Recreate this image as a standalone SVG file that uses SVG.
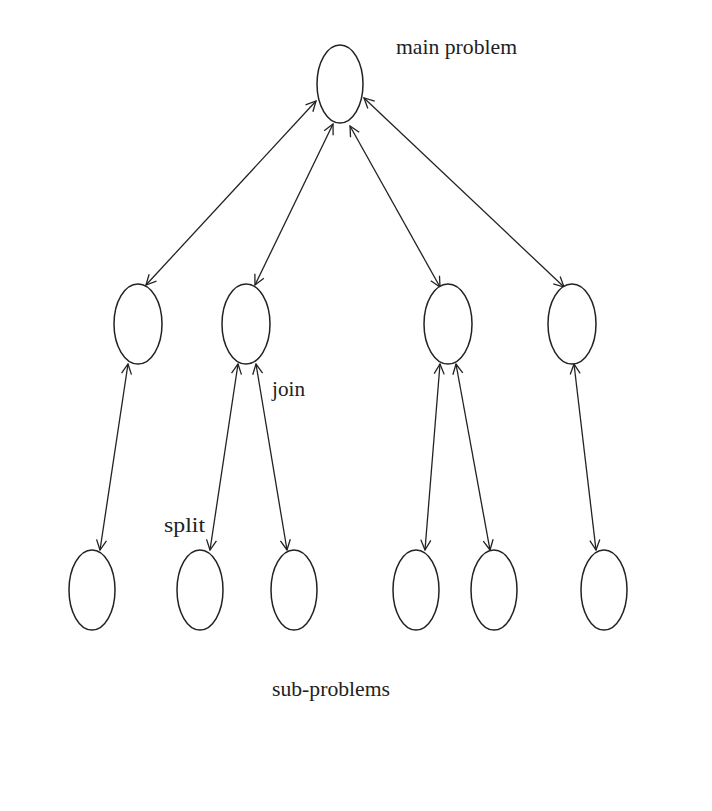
<svg xmlns="http://www.w3.org/2000/svg" width="712" height="811" viewBox="0 0 712 811">
<style>
.n{fill:#fff;stroke:#222;stroke-width:1.5}
.e{stroke:#222;stroke-width:1.3;fill:none;marker-start:url(#a);marker-end:url(#a)}
text{font-family:"Liberation Serif",serif;font-size:21px;fill:#222}
</style>
<defs><marker id="a" viewBox="0 0 12 12" refX="11" refY="6" markerWidth="12" markerHeight="12" markerUnits="userSpaceOnUse" orient="auto-start-reverse"><path d="M1,1 L11,6 L1,11" fill="none" stroke="#222" stroke-width="1.3"/></marker></defs>
<rect width="712" height="811" fill="#fff"/>
<g id="connectors">
<line class="e" x1="316" y1="101" x2="146" y2="285"/>
<line class="e" x1="333" y1="124" x2="255" y2="285"/>
<line class="e" x1="350" y1="126" x2="440" y2="287"/>
<line class="e" x1="364" y1="98" x2="564" y2="287"/>
<line class="e" x1="128" y1="364" x2="100" y2="550"/>
<line class="e" x1="238" y1="364" x2="210" y2="550"/>
<line class="e" x1="256" y1="364" x2="287" y2="550"/>
<line class="e" x1="440" y1="364" x2="425" y2="550"/>
<line class="e" x1="456" y1="364" x2="490" y2="550"/>
<line class="e" x1="574" y1="364" x2="596" y2="550"/>
</g>
<g id="main"><ellipse class="n" cx="340" cy="84" rx="23" ry="39"/></g>
<g id="m1"><ellipse class="n" cx="138" cy="324" rx="24" ry="40"/></g>
<g id="m2"><ellipse class="n" cx="246" cy="324" rx="24" ry="40"/></g>
<g id="m3"><ellipse class="n" cx="448" cy="324" rx="24" ry="40"/></g>
<g id="m4"><ellipse class="n" cx="572" cy="324" rx="24" ry="40"/></g>
<g id="b1"><ellipse class="n" cx="92" cy="590" rx="23" ry="40"/></g>
<g id="b2"><ellipse class="n" cx="200" cy="590" rx="23" ry="40"/></g>
<g id="b3"><ellipse class="n" cx="294" cy="590" rx="23" ry="40"/></g>
<g id="b4"><ellipse class="n" cx="416" cy="590" rx="23" ry="40"/></g>
<g id="b5"><ellipse class="n" cx="494" cy="590" rx="23" ry="40"/></g>
<g id="b6"><ellipse class="n" cx="604" cy="590" rx="23" ry="40"/></g>
<text x="396" y="54" textLength="121" lengthAdjust="spacingAndGlyphs">main problem</text>
<text x="272" y="396" textLength="33" lengthAdjust="spacingAndGlyphs">join</text>
<text x="164" y="532" textLength="41" lengthAdjust="spacingAndGlyphs">split</text>
<text x="272" y="696" textLength="118" lengthAdjust="spacingAndGlyphs">sub-problems</text>
</svg>
